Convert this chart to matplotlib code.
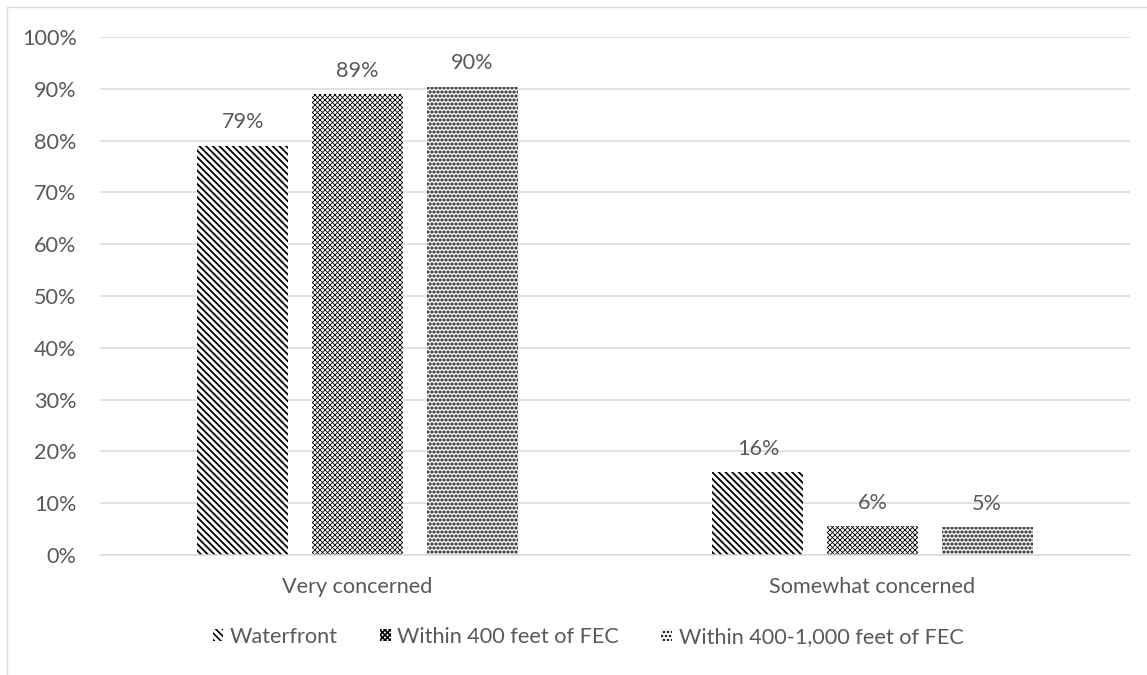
import matplotlib
matplotlib.use("Agg")
import matplotlib.pyplot as plt
from matplotlib.patches import Patch, Rectangle
import numpy as np

plt.rcParams['font.family'] = ['Lato', 'DejaVu Sans']

categories = ["Very concerned", "Somewhat concerned"]
series_names = ["Waterfront", "Within 400 feet of FEC", "Within 400-1,000 feet of FEC"]
waterfront = [0.79, 0.16]
within_400 = [0.89, 0.056]
within_400_1000 = [0.904, 0.054]
series_values = [waterfront, within_400, within_400_1000]
y_ticks = [0.0, 0.1, 0.2, 0.3, 0.4, 0.5, 0.6, 0.7, 0.8, 0.9, 1.0]

# hatch pattern and hatch line width per series
hatches = ["\\" * 6, "x" * 8, "." * 5]
hatch_widths = [1.1, 0.5, 1.3]
text_gray = "#595959"
grid_gray = "#d9d9d9"

W, H, DPI = 1147, 675, 120
fig = plt.figure(figsize=(W / DPI, H / DPI), dpi=DPI)
fig.patch.set_facecolor("white")

# chart frame
fig.add_artist(Rectangle((7 / W, -0.5), 2.0, 1 - 7 / H + 0.5, transform=fig.transFigure,
                         facecolor="none", edgecolor=grid_gray, lw=0.8))

ax = fig.add_axes([100 / W, 1 - 555 / H, 1030 / W, 518 / H])
ax.set_xlim(0, 2)
ax.set_ylim(0, 1)

x = np.arange(len(categories)) + 0.5
step = 0.2225
width = 0.177
handles = []
for i, (name, vals, hatch, hw) in enumerate(zip(series_names, series_values, hatches, hatch_widths)):
    pos = x + (i - 1) * step
    with plt.rc_context({"hatch.linewidth": hw}):
        bars = ax.bar(pos, vals, width=width, facecolor="white", edgecolor="black",
                      linewidth=0, hatch=hatch, zorder=3)
        handles.append(Patch(facecolor="white", edgecolor="black", linewidth=0, hatch=hatch))
    for b, v in zip(bars, vals):
        ax.annotate(f"{v:.0%}", (b.get_x() + b.get_width() / 2, v),
                    xytext=(0, 8), textcoords="offset points",
                    ha="center", va="bottom", fontsize=13, color=text_gray)

ax.set_yticks(y_ticks)
ax.set_yticklabels([f"{t:.0%}" for t in y_ticks])
ax.set_xticks(x)
ax.set_xticklabels(categories)
ax.tick_params(axis="both", length=0, labelsize=13, labelcolor=text_gray)
ax.tick_params(axis="y", pad=14)
ax.tick_params(axis="x", pad=13)
ax.grid(axis="y", color=grid_gray, lw=0.9, zorder=0)
for s in ["top", "right", "left"]:
    ax.spines[s].set_visible(False)
ax.spines["bottom"].set_color(grid_gray)
ax.spines["bottom"].set_linewidth(0.9)
ax.spines["bottom"].set_zorder(4)

fig.legend(handles, series_names, loc="center", bbox_to_anchor=(588 / W, 1 - 637 / H),
           ncol=3, frameon=False, fontsize=13, labelcolor=text_gray,
           handlelength=0.5, handleheight=0.5, handletextpad=0.3, columnspacing=1.95)

fig.savefig("out.png", dpi=DPI, facecolor="white")
